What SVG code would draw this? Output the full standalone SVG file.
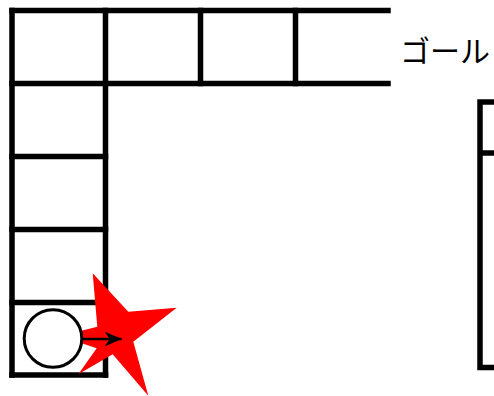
<svg xmlns="http://www.w3.org/2000/svg" width="494" height="396" viewBox="0 0 494 396">
  <style>
    .ln { stroke: #000; stroke-width: 5.5; stroke-linecap: square; fill: none; }
    .lbl { font-family: "Noto Sans CJK JP", "Noto Sans", sans-serif; font-size: 30px; fill: #000; }
  </style>
  <defs>
    <marker id="ah" markerUnits="userSpaceOnUse" markerWidth="20" markerHeight="20" refX="17" refY="8" orient="auto">
      <path d="M0,0.5 L17,8 L0,15.5 L5,8 Z" fill="#000"/>
    </marker>
  </defs>
  <rect width="494" height="396" fill="#fff"/>
  <g id="board">
    <line class="ln" x1="12" y1="10.5" x2="388" y2="10.5"/>
    <line class="ln" x1="12" y1="83.5" x2="388" y2="83.5"/>
    <line class="ln" x1="12" y1="10.5" x2="12" y2="375"/>
    <line class="ln" x1="105.5" y1="10.5" x2="105.5" y2="375"/>
    <line class="ln" x1="200.5" y1="10.5" x2="200.5" y2="83.5"/>
    <line class="ln" x1="295.5" y1="10.5" x2="295.5" y2="83.5"/>
    <line class="ln" x1="12" y1="156.5" x2="105.5" y2="156.5"/>
    <line class="ln" x1="12" y1="229.5" x2="105.5" y2="229.5"/>
    <line class="ln" x1="12" y1="302.5" x2="105.5" y2="302.5"/>
    <line class="ln" x1="12" y1="375" x2="105.5" y2="375"/>
  </g>
  <g id="goal-label">
    <text class="lbl" x="400" y="62">ゴール</text>
  </g>
  <g id="goal-box">
    <polyline class="ln" style="stroke-linecap:butt" points="497,102 480,102 480,367.5 497,367.5"/>
    <line class="ln" style="stroke-linecap:butt" x1="480" y1="153" x2="497" y2="153"/>
  </g>
  <g id="star">
    <polygon fill="#ff0000" points="92.7,273.3 128.3,311.7 176.7,307.7 133.3,341.7 148.3,395.7 112.7,354.3 78.3,374.3 96.7,348.3 60,336 97.3,326.7"/>
  </g>
  <g id="piece">
    <circle cx="53" cy="338.5" r="28.8" fill="#fff" stroke="#000" stroke-width="3"/>
  </g>
  <g id="connectors">
    <line x1="82" y1="339" x2="121.7" y2="339" stroke="#000" stroke-width="2.5" marker-end="url(#ah)"/>
  </g>
</svg>
